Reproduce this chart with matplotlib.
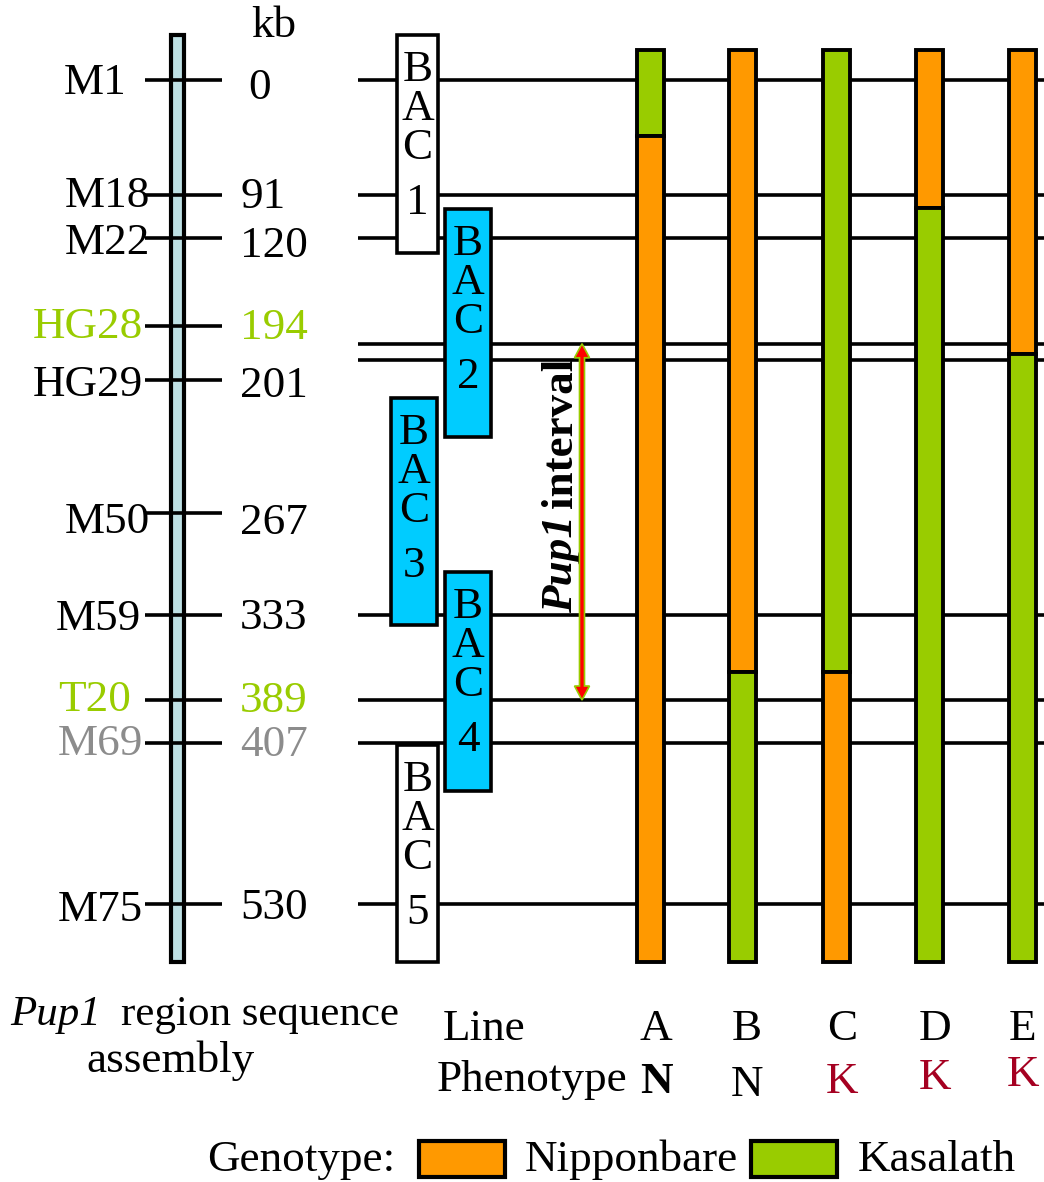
import numpy as np
import matplotlib
matplotlib.use("Agg")
import matplotlib.pyplot as plt
from matplotlib.patches import Polygon

plt.rcParams['font.family'] = ['Liberation Serif', 'DejaVu Serif']
FS = 32.5

# ---- data ----
markers = ['M1', 'M18', 'M22', 'HG28', 'HG29', 'M50', 'M59', 'T20', 'M69', 'M75']
kb = [0, 91, 120, 194, 201, 267, 333, 389, 407, 530]
marker_colors = ['black', 'black', 'black', '#99CC00', 'black', 'black',
                 'black', '#99CC00', '#8C8C8C', 'black']
# horizontal guide lines across BAC / genotype panel (kb)
guide_kb = [0, 91, 120, 196.3, 198.4, 333, 389, 407, 530]

bac_names = ['1', '2', '3', '4', '5']
bac_colors = ['white', '#00CCFF', '#00CCFF', '#00CCFF', 'white']
bac_top = [35, 209, 398, 572, 745]
bac_bottom = [253, 437, 625, 791, 962]

lines = ['A', 'B', 'C', 'D', 'E']
phenotype = ['N', 'N', 'K', 'K', 'K']
first_geno = ['Kasalath', 'Nipponbare', 'Kasalath', 'Nipponbare', 'Nipponbare']
switch_kb = [44, 370.5, 370.5, 100, 197.6]
pup1_kb = [196.3, 389]

geno_colors = {'Nipponbare': '#FF9900', 'Kasalath': '#99CC00'}
pheno_colors = {'N': 'black', 'K': '#A50021'}

# ---- layout (pixel rows of the schematic) ----
marker_row = [80, 195, 238, 326, 380, 513, 615, 700, 743, 904]
name_row = [83, 196, 243, 327, 385, 522, 619, 700, 744, 910]
kb_row = [88, 197, 246, 328, 386, 523, 618, 701, 745, 908]
label_x = [95, 107, 107, 88, 88, 107, 98, 95, 100, 100]
def row(v):
    return np.interp(v, kb, marker_row)

fig = plt.figure(figsize=(10.44, 11.82), dpi=100)
ax = fig.add_axes([0, 0, 1, 1])
ax.set_xlim(0, 1044)
ax.set_ylim(1182, 0)
ax.axis('off')

# chromosome bar and marker ticks
ax.bar(177.5, 962 - 35, bottom=35, width=13, color='#BEE0E4', edgecolor='black', lw=3, zorder=2)
ax.hlines(marker_row, 145, 222, color='black', lw=2.6, zorder=3)
for i, (name, v, c) in enumerate(zip(markers, kb, marker_colors)):
    ax.text(label_x[i], name_row[i], name, fontsize=FS, color=c, ha='center', va='center')
    ax.text(248 if v == 0 else 240, kb_row[i], str(v), fontsize=FS, color=c, ha='left', va='center')
ax.text(274, 26, 'kb', fontsize=FS, ha='center', va='center')

# guide lines
ax.hlines(row(guide_kb), 358, 1044, color='black', lw=2.6, zorder=1)

# BAC clones
bac_x = [417.5, 468, 414, 468, 417.5]
bac_w = [41, 46, 46, 46, 41]
for i, name in enumerate(bac_names):
    ax.bar(bac_x[i], bac_bottom[i] - bac_top[i], bottom=bac_top[i], width=bac_w[i],
           color=bac_colors[i], edgecolor='black', lw=2.6, zorder=4)
    ax.text(bac_x[i], bac_top[i] + 74, 'B\nA\nC', fontsize=FS, ha='center', va='center',
            multialignment='center', linespacing=0.97, zorder=5)
    ax.text(bac_x[i], bac_top[i] + 168, name, fontsize=FS, ha='center', va='center', zorder=5)

# Pup1 interval arrow
y0, y1 = row(pup1_kb[0]), row(pup1_kb[1])
ax_x, hw, hl, sw = 582, 7.5, 14, 2.5
pts = [(ax_x, y0), (ax_x + hw, y0 + hl), (ax_x + sw, y0 + hl), (ax_x + sw, y1 - hl),
       (ax_x + hw, y1 - hl), (ax_x, y1), (ax_x - hw, y1 - hl), (ax_x - sw, y1 - hl),
       (ax_x - sw, y0 + hl), (ax_x - hw, y0 + hl)]
ax.add_patch(Polygon(pts, closed=True, facecolor='red', edgecolor='#99CC00', lw=1.2, zorder=4))
ax.text(561, 358, 'interval', fontsize=FS, fontweight='bold', rotation=90,
        ha='center', va='top')
ax.text(561, 613, 'Pup1', fontsize=FS, fontweight='bold', style='italic', rotation=90,
        ha='center', va='bottom')

# genotype bars
bar_x = [650, 742, 836, 929, 1022]
other = {'Kasalath': 'Nipponbare', 'Nipponbare': 'Kasalath'}
for x, g, s in zip(bar_x, first_geno, switch_kb):
    sy = row(s)
    ax.bar(x, sy - 50, bottom=50, width=27, color=geno_colors[g], edgecolor='black', lw=2.8, zorder=4)
    ax.bar(x, 962 - sy, bottom=sy, width=27, color=geno_colors[other[g]], edgecolor='black', lw=2.8, zorder=4)

# bottom labels
ax.text(10, 1015, 'Pup1', fontsize=31, style='italic', ha='left', va='center')
ax.text(121, 1015, 'region sequence', fontsize=31, ha='left', va='center')
ax.text(170, 1061, 'assembly', fontsize=FS, ha='center', va='center')
ax.text(443, 1029, 'Line', fontsize=FS, ha='left', va='center')
ax.text(437, 1080, 'Phenotype', fontsize=FS, ha='left', va='center')
letter_x = [656, 747, 842, 935, 1023]
pheno_y = [1082, 1085, 1082, 1078, 1075]
for i, (l, p) in enumerate(zip(lines, phenotype)):
    ax.text(letter_x[i], 1029, l, fontsize=FS, ha='center', va='center')
    ax.text(letter_x[i], pheno_y[i], p, fontsize=FS, color=pheno_colors[p],
            fontweight='bold' if i == 0 else 'normal', ha='center', va='center')

# legend
ax.text(207, 1160, 'Genotype:', fontsize=FS, ha='left', va='center')
ax.bar(462, 36, bottom=1141, width=86, color=geno_colors['Nipponbare'], edgecolor='black', lw=3)
ax.text(525, 1160, 'Nipponbare', fontsize=FS, ha='left', va='center')
ax.bar(794, 36, bottom=1141, width=86, color=geno_colors['Kasalath'], edgecolor='black', lw=3)
ax.text(858, 1160, 'Kasalath', fontsize=FS, ha='left', va='center')

fig.savefig('out.png', dpi=100)
